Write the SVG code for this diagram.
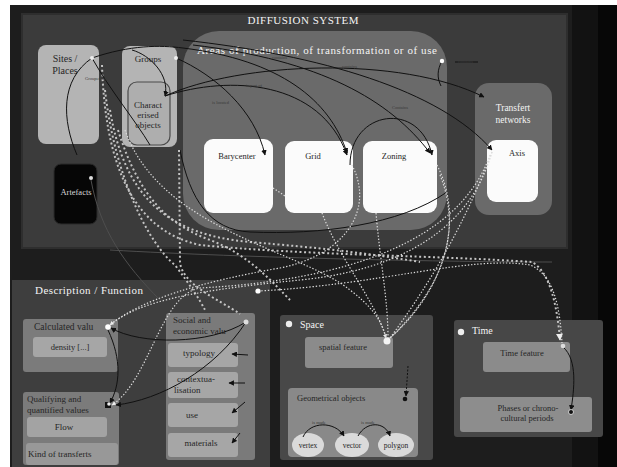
<svg xmlns="http://www.w3.org/2000/svg" width="617" height="467" viewBox="0 0 617 467">
<defs>
<style>
text{font-family:"Liberation Serif","DejaVu Serif",serif}
.w{fill:#f4f4f4}
.d{fill:#262626}
.lbl{fill:#3a3a3a;font-size:4.5px}
.blk{fill:none;stroke:#111;stroke-width:1}
.gry{fill:none;stroke:#4e4e4e;stroke-width:1}
.dw{fill:none;stroke:#dcdcdc;stroke-width:1.2;stroke-dasharray:1.4 1.8}
.dt{fill:none;stroke:#c4c4c4;stroke-width:2;stroke-dasharray:2 2.6}
.lt{fill:#b4b4b4}
.wb{fill:#fbfbfb}
.inner{fill:#a6a6a6}
</style>
<marker id="ab" viewBox="0 0 10 10" refX="9" refY="5" markerWidth="5.5" markerHeight="5.5" orient="auto"><path d="M0,0 L10,5 L0,10 z" fill="#111"/></marker>
<marker id="aw" viewBox="0 0 10 10" refX="9" refY="5" markerWidth="3.5" markerHeight="3.5" orient="auto"><path d="M0,0 L10,5 L0,10 z" fill="#eee"/></marker>
</defs>

<rect width="617" height="467" fill="#fff"/>
<rect x="10" y="5" width="607" height="462" fill="#1d1d1d"/>
<rect x="572" y="5" width="45" height="462" fill="#121212"/>
<rect x="598" y="5" width="19" height="462" fill="#070707"/>

<g id="diffusion">
<rect x="22" y="14" width="545" height="234" fill="#3b3b3b" stroke="#2e2e2e" stroke-width="2"/>
<text x="303" y="24" text-anchor="middle" class="w" font-size="11" textLength="111">DIFFUSION SYSTEM</text>
</g>
<g id="areas">
<rect x="183" y="31" width="264" height="199" rx="36" fill="#6a6a6a"/>
<text x="197" y="54" class="w" font-size="11" textLength="240">Areas of production, of transformation or of use</text>
</g>
<g id="sites">
<rect x="38" y="45" width="61" height="99" rx="8" class="lt"/>
<text x="65" y="62" text-anchor="middle" class="d" font-size="10">Sites /</text>
<text x="65" y="74" text-anchor="middle" class="d" font-size="10">Places</text>
</g>
<g id="groups">
<rect x="122" y="46" width="55" height="101" rx="8" class="lt"/>
<text x="148" y="62" text-anchor="middle" class="d" font-size="9">Groups</text>
</g>
<g id="characterised">
<rect x="128" y="82" width="42" height="63" rx="9" fill="#aeaeae" stroke="#4a4a4a" stroke-width="1.2"/>
<text x="148" y="108" text-anchor="middle" class="d" font-size="9">Charact</text>
<text x="148" y="118" text-anchor="middle" class="d" font-size="9">erised</text>
<text x="148" y="128" text-anchor="middle" class="d" font-size="9">objects</text>
</g>
<g id="artefacts">
<rect x="54" y="164" width="43" height="60" rx="7" fill="#060606" stroke="#2a2a2a"/>
<text x="76" y="195" text-anchor="middle" fill="#d8d8d8" font-size="8.5">Artefacts</text>
</g>
<g id="barycenter">
<rect x="204" y="139" width="69" height="74" rx="9" class="wb"/>
<text x="237" y="159" text-anchor="middle" class="d" font-size="8.5">Barycenter</text>
</g>
<g id="grid">
<rect x="285" y="141" width="68" height="72" rx="9" class="wb"/>
<text x="313" y="159" text-anchor="middle" class="d" font-size="8.5">Grid</text>
</g>
<g id="zoning">
<rect x="363" y="141" width="74" height="72" rx="9" class="wb"/>
<text x="394" y="159" text-anchor="middle" class="d" font-size="8.5">Zoning</text>
</g>
<g id="transfert">
<rect x="475" y="83" width="77" height="132" rx="14" fill="#6a6a6a"/>
<text x="513" y="111" text-anchor="middle" class="w" font-size="9.5">Transfert</text>
<text x="513" y="123" text-anchor="middle" class="w" font-size="9.5">networks</text>
</g>
<g id="axis">
<rect x="487" y="140" width="51" height="62" rx="9" class="wb"/>
<text x="517" y="156" text-anchor="middle" class="d" font-size="8.5">Axis</text>
</g>

<g id="description">
<rect x="12" y="280" width="258" height="187" fill="#3e3e3e"/>
<text x="35" y="294" class="w" font-size="11" textLength="108">Description / Function</text>
</g>
<g id="calculated">
<rect x="23" y="319" width="95" height="53" rx="3" fill="#7b7b7b"/>
<text x="34" y="330" class="d" font-size="9.5">Calculated valu</text>
<rect x="33" y="337" width="74" height="20" rx="3" class="inner"/>
<text x="70" y="350" text-anchor="middle" class="d" font-size="8.5">density [...]</text>
</g>
<g id="qualifying">
<rect x="23" y="392" width="96" height="73" rx="3" fill="#7b7b7b"/>
<text x="27" y="402" class="d" font-size="9">Qualifying and</text>
<text x="27" y="413" class="d" font-size="9">quantified values</text>
<rect x="27" y="417" width="80" height="20" rx="3" fill="#a3a3a3"/>
<text x="64" y="430" text-anchor="middle" class="d" font-size="9">Flow</text>
<rect x="26" y="443" width="92" height="22" rx="3" fill="#989898"/>
<text x="28" y="457" class="d" font-size="9">Kind of transferts</text>
</g>
<g id="social">
<rect x="166" y="313" width="89" height="147" rx="3" fill="#7a7a7a"/>
<text x="173" y="323" class="d" font-size="9">Social and</text>
<text x="173" y="334" class="d" font-size="9">economic valu</text>
<rect x="168" y="343" width="70" height="24" rx="3" class="inner"/>
<text x="199" y="356" text-anchor="middle" class="d" font-size="9">typology</text>
<rect x="168" y="372" width="70" height="26" rx="3" class="inner"/>
<text x="177" y="382" class="d" font-size="9">contextua-</text>
<text x="174" y="393" class="d" font-size="9">lisation</text>
<rect x="168" y="403" width="70" height="24" rx="3" class="inner"/>
<text x="192" y="418" text-anchor="middle" class="d" font-size="9">use</text>
<rect x="168" y="433" width="70" height="24" rx="3" class="inner"/>
<text x="201" y="446" text-anchor="middle" class="d" font-size="9">materials</text>
</g>
<g id="space">
<rect x="280" y="315" width="153" height="145" rx="3" fill="#484848"/>
<circle cx="289" cy="324" r="3.2" fill="#eee"/>
<text x="300" y="328" class="w" font-size="10">Space</text>
<rect x="305" y="337" width="88" height="31" rx="3" fill="#8b8b8b"/>
<text x="343" y="350" text-anchor="middle" class="d" font-size="8.5">spatial feature</text>
<rect x="288" y="388" width="130" height="69" rx="4" fill="#898989"/>
<text x="297" y="401" class="d" font-size="8.5">Geometrical objects</text>
<ellipse cx="308" cy="445" rx="16" ry="12" fill="#dadada"/>
<text x="308" y="448" text-anchor="middle" class="d" font-size="7.5">vertex</text>
<ellipse cx="352" cy="445" rx="17" ry="12" fill="#dadada"/>
<text x="352" y="448" text-anchor="middle" class="d" font-size="7.5">vector</text>
<ellipse cx="396" cy="445" rx="18" ry="12" fill="#dadada"/>
<text x="396" y="448" text-anchor="middle" class="d" font-size="7.5">polygon</text>
</g>
<g id="time">
<rect x="454" y="320" width="149" height="117" rx="3" fill="#474747"/>
<circle cx="461" cy="332" r="3.2" fill="#eee"/>
<text x="472" y="334" class="w" font-size="10">Time</text>
<rect x="483" y="342" width="87" height="30" rx="3" fill="#8b8b8b"/>
<text x="522" y="356" text-anchor="middle" class="d" font-size="8.5">Time feature</text>
<rect x="460" y="397" width="132" height="35" rx="3" fill="#8d8d8d"/>
<text x="528" y="411" text-anchor="middle" class="d" font-size="8.5">Phases or chrono-</text>
<text x="527" y="421" text-anchor="middle" class="d" font-size="8.5">cultural periods</text>
</g>

<g id="connectors">
<path class="gry" d="M91,180 C 100,230 125,265 160,300"/>
<path class="gry" d="M110,250 C 250,258 450,262 552,262"/>
<path class="blk" d="M447,192 C 400,225 320,235 250,232 C 210,230 190,200 180,150"/>
<path class="dt" d="M102,65 C 105,160 130,230 200,245 C 300,255 450,256 532,262 C 550,272 557,305 560,340" marker-end="url(#aw)"/>
<path class="dt" d="M105,90 C 115,180 150,245 175,265 C 190,285 200,300 205,310"/>
<path class="dt" d="M110,110 C 125,200 170,235 250,242 C 320,248 360,252 420,262"/>
<path class="dt" d="M179,150 L 180,262 C 182,285 220,300 240,314"/>
<path class="dt" d="M118,130 C 140,200 170,225 210,240 C 250,255 275,285 290,300"/>
<path class="dw" d="M322,213 C 340,260 375,300 386,338" marker-end="url(#aw)"/>
<path class="dw" d="M352,165 C 375,210 345,255 280,268 C 200,282 140,300 110,325" marker-end="url(#aw)"/>
<path class="dw" d="M437,165 C 465,220 445,290 390,338"/>
<path class="dw" d="M440,175 C 470,250 420,310 388,340"/>
<path class="dw" d="M376,213 C 380,260 388,300 388,338"/>
<path class="dw" d="M492,152 C 470,210 440,270 390,338"/>
<path class="dw" d="M492,152 C 470,230 400,270 300,280 C 200,290 140,300 110,325"/>
<path class="dw" d="M490,155 C 460,240 350,280 200,288 C 160,295 150,380 112,405" marker-end="url(#aw)"/>
<path class="dw" d="M258,291 C 380,285 470,255 530,265 C 555,275 560,310 562,343"/>
<path class="dw" d="M125,130 C 160,230 300,250 350,290 C 370,305 382,320 386,338"/>
<path class="dw" d="M273,188 L 285,196"/>
<path class="blk" d="M183,48 C 280,60 330,100 347,153" marker-end="url(#ab)"/>
<path class="blk" d="M193,45 C 320,60 390,100 430,153" marker-end="url(#ab)"/>
<path class="blk" d="M176,58 C 215,75 255,110 265,155" marker-end="url(#ab)"/>
<path class="blk" d="M165,96 C 230,75 320,80 347,155" marker-end="url(#ab)"/>
<path class="blk" d="M165,96 C 240,62 400,55 484,97" marker-end="url(#ab)"/>
<path class="blk" d="M183,40 C 320,55 440,90 492,150" marker-end="url(#ab)"/>
<path class="blk" d="M350,165 C 350,110 420,100 432,155" marker-end="url(#ab)"/>
<path class="blk" d="M92,58 C 130,45 160,45 183,48"/>
<path class="blk" d="M92,58 C 60,80 62,120 77,155"/>
<path class="blk" d="M92,58 C 110,90 135,120 150,145"/>
<path class="blk" d="M132,50 C 150,55 170,75 165,96" marker-end="url(#ab)"/>
<path class="blk" d="M442,61 C 437,70 437,78 441,86"/>
<path class="blk" d="M455,62 L 478,62"/>
<path class="blk" d="M246,322 C 210,345 140,345 111,328" marker-end="url(#ab)"/>
<path class="blk" d="M108,330 C 122,360 120,385 110,403" marker-end="url(#ab)"/>
<path class="blk" d="M246,322 C 215,370 160,400 116,405" marker-end="url(#ab)"/>
<path class="blk" d="M248,355 L 232,354" marker-end="url(#ab)"/>
<path class="blk" d="M245,383 L 229,383" marker-end="url(#ab)"/>
<path class="blk" d="M245,402 L 232,413" marker-end="url(#ab)"/>
<path class="blk" d="M240,433 L 232,443" marker-end="url(#ab)"/>
<path class="blk" d="M408,366 L 406,396" stroke-dasharray="2 1.5" marker-end="url(#ab)"/>
<path class="blk" d="M303,437 C 310,421 335,421 344,436" marker-end="url(#ab)"/>
<path class="blk" d="M358,436 C 366,421 385,421 390,436" marker-end="url(#ab)"/>
<path class="blk" d="M563,347 C 578,360 574,390 571,410" marker-end="url(#ab)"/>
<circle cx="92" cy="58" r="2" fill="#eee"/>
<circle cx="176" cy="58" r="2" fill="#eee"/>
<circle cx="442" cy="61" r="2.2" fill="#fff"/>
<circle cx="91" cy="178" r="2" fill="#ddd"/>
<circle cx="258" cy="291" r="2.6" fill="#fff"/>
<circle cx="108" cy="327" r="2.8" fill="#fff"/>
<rect x="105" y="402" width="6" height="6" fill="#111"/>
<circle cx="109" cy="404" r="1.8" fill="#eee"/>
<circle cx="246" cy="322" r="2.5" fill="#ddd"/>
<circle cx="387" cy="341" r="3.5" fill="#fff" opacity="0.9"/>
<circle cx="405" cy="399" r="2.3" fill="#111"/>
<circle cx="563" cy="346" r="2.3" fill="#ddd"/>
<circle cx="571" cy="412" r="2.5" fill="#111" stroke="#eee" stroke-width="0.8"/>
</g>
<g id="labels">
<text x="85" y="80" class="lbl">Grouped by</text>
<text x="272" y="59" class="lbl">contains</text>
<text x="342" y="68" class="lbl">contains</text>
<text x="246" y="87" class="lbl">is part of</text>
<text x="212" y="104" class="lbl">is located</text>
<text x="392" y="109" class="lbl" font-size="5.5">Contains</text>
<text x="458" y="63" class="lbl" fill="#777">contains</text>
<text x="312" y="424" class="lbl">is made</text>
<text x="361" y="424" class="lbl">is made</text>
</g>
</svg>
